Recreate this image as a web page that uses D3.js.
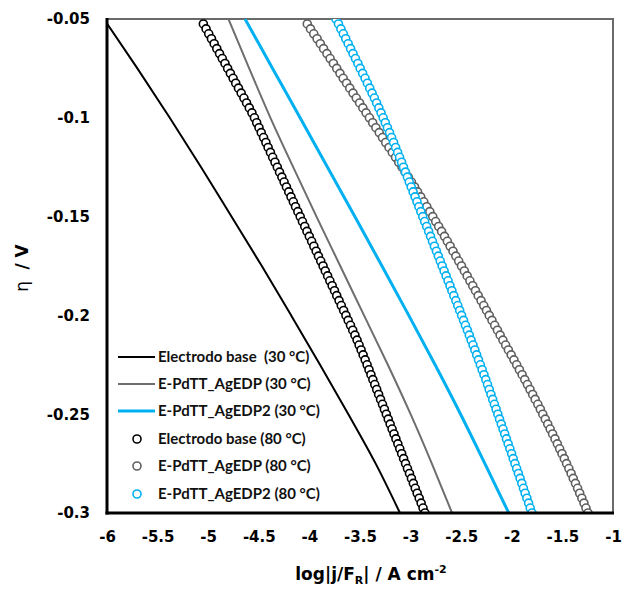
<!DOCTYPE html>
<html><head><meta charset="utf-8">
<script src="https://cdn.jsdelivr.net/npm/d3@7"></script>
<style>
body{margin:0;background:#fff}
text{font-family:Lato,"Open Sans",sans-serif;white-space:pre}
</style></head><body>
<svg id="chart" width="622" height="589"></svg>
<script>
// ---- data ----
const xTicks = [-6, -5.5, -5, -4.5, -4, -3.5, -3, -2.5, -2, -1.5, -1];
const yTicks = [-0.05, -0.1, -0.15, -0.2, -0.25, -0.3];

const seriesNames = [
  "Electrodo base  (30 °C)", "E-PdTT_AgEDP (30 °C)", "E-PdTT_AgEDP2 (30 °C)",
  "Electrodo base (80 °C)", "E-PdTT_AgEDP (80 °C)", "E-PdTT_AgEDP2 (80 °C)"
];

// 30 °C curves (lines)
const etaLine = [-0.05, -0.075, -0.1, -0.125, -0.15, -0.175, -0.2, -0.225, -0.25, -0.275, -0.3];
const logBase30 = [-6.030, -5.700, -5.380, -5.070, -4.770, -4.470, -4.180, -3.895, -3.615, -3.345, -3.105];
const logAgEDP30 = [-4.800, -4.595, -4.385, -4.160, -3.930, -3.695, -3.460, -3.225, -3.000, -2.790, -2.590];
const logAgEDP2_30 = [-4.636, -4.364, -4.092, -3.821, -3.551, -3.283, -3.018, -2.758, -2.506, -2.266, -2.030];

// 80 °C curves (markers)
const etaCircles = [-0.05,-0.0525,-0.055,-0.0575,-0.06,-0.0625,-0.065,-0.0675,-0.07,-0.0725,-0.075,-0.0775,-0.08,-0.0825,-0.085,-0.0875,-0.09,-0.0925,-0.095,-0.0975,
-0.1,-0.1025,-0.105,-0.1075,-0.11,-0.1125,-0.115,-0.1175,-0.12,-0.1225,-0.125,-0.1275,-0.13,-0.1325,-0.135,-0.1375,-0.14,-0.1425,-0.145,-0.1475,
-0.15,-0.1525,-0.155,-0.1575,-0.16,-0.1625,-0.165,-0.1675,-0.17,-0.1725,-0.175,-0.1775,-0.18,-0.1825,-0.185,-0.1875,-0.19,-0.1925,-0.195,-0.1975,
-0.2,-0.2025,-0.205,-0.2075,-0.21,-0.2125,-0.215,-0.2175,-0.22,-0.2225,-0.225,-0.2275,-0.23,-0.2325,-0.235,-0.2375,-0.24,-0.2425,-0.245,-0.2475,
-0.25,-0.2525,-0.255,-0.2575,-0.26,-0.2625,-0.265,-0.2675,-0.27,-0.2725,-0.275,-0.2775,-0.28,-0.2825,-0.285,-0.2875,-0.29,-0.2925,-0.295,-0.2975,-0.3];

const logBase80 = [null,
-5.048,-5.021,-4.995,-4.968,-4.941,-4.915,-4.888,-4.861,-4.834,-4.808,
-4.781,-4.754,-4.728,-4.701,-4.674,-4.647,-4.621,-4.594,-4.568,-4.543,
-4.521,-4.498,-4.476,-4.453,-4.430,-4.408,-4.385,-4.363,-4.340,-4.317,
-4.295,-4.272,-4.250,-4.227,-4.204,-4.182,-4.159,-4.137,-4.114,-4.091,
-4.069,-4.046,-4.024,-4.001,-3.978,-3.956,-3.933,-3.911,-3.888,-3.865,
-3.843,-3.820,-3.798,-3.775,-3.752,-3.730,-3.707,-3.685,-3.662,-3.639,
-3.617,-3.594,-3.572,-3.550,-3.529,-3.509,-3.489,-3.469,-3.449,-3.430,
-3.411,-3.392,-3.373,-3.354,-3.335,-3.316,-3.297,-3.278,-3.259,-3.240,
-3.221,-3.202,-3.183,-3.164,-3.145,-3.126,-3.107,-3.088,-3.069,-3.050,
-3.031,-3.011,-2.992,-2.973,-2.954,-2.935,-2.915,-2.896,-2.877,-2.858];

const logAgEDP80 = [null,
-4.021,-3.989,-3.957,-3.924,-3.892,-3.860,-3.827,-3.795,-3.763,-3.730,
-3.698,-3.666,-3.633,-3.601,-3.569,-3.537,-3.504,-3.472,-3.440,-3.407,
-3.375,-3.343,-3.310,-3.278,-3.246,-3.213,-3.181,-3.149,-3.117,-3.085,
-3.054,-3.023,-2.992,-2.961,-2.931,-2.900,-2.870,-2.840,-2.810,-2.781,
-2.752,-2.723,-2.694,-2.665,-2.637,-2.609,-2.581,-2.553,-2.525,-2.497,
-2.469,-2.441,-2.414,-2.386,-2.359,-2.332,-2.304,-2.277,-2.250,-2.223,
-2.196,-2.169,-2.142,-2.115,-2.088,-2.061,-2.034,-2.006,-1.979,-1.952,
-1.925,-1.898,-1.872,-1.846,-1.820,-1.794,-1.769,-1.743,-1.718,-1.694,
-1.669,-1.645,-1.621,-1.597,-1.573,-1.550,-1.527,-1.504,-1.481,-1.459,
-1.436,-1.414,-1.393,-1.371,-1.350,-1.329,-1.308,-1.287,-1.267,-1.247];

const logAgEDP2_80 = [-3.737,
-3.713,-3.689,-3.665,-3.641,-3.617,-3.593,-3.569,-3.545,-3.521,-3.498,
-3.474,-3.450,-3.427,-3.404,-3.381,-3.358,-3.336,-3.314,-3.292,-3.271,
-3.250,-3.229,-3.208,-3.188,-3.168,-3.148,-3.128,-3.109,-3.089,-3.070,
-3.051,-3.032,-3.013,-2.994,-2.975,-2.956,-2.937,-2.918,-2.899,-2.880,
-2.861,-2.841,-2.822,-2.803,-2.784,-2.765,-2.745,-2.726,-2.707,-2.688,
-2.669,-2.649,-2.630,-2.611,-2.592,-2.573,-2.553,-2.534,-2.515,-2.496,
-2.477,-2.458,-2.439,-2.420,-2.402,-2.383,-2.365,-2.347,-2.329,-2.311,
-2.293,-2.275,-2.257,-2.240,-2.223,-2.206,-2.189,-2.172,-2.155,-2.138,
-2.121,-2.104,-2.087,-2.070,-2.053,-2.036,-2.019,-2.002,-1.986,-1.969,
-1.952,-1.935,-1.918,-1.901,-1.885,-1.868,-1.851,-1.834,-1.818,-1.801];

const lineColors = ["#000000", "#6e6e6e", "#00b0f0"];
const circleColors = ["#000000", "#5f5f5f", "#00b0f0"];

// ---- drawing ----
const svg = d3.select("#chart");
const L = 107, R = 613, T = 19, B = 513;
const x = d3.scaleLinear().domain([-6, -1]).range([L, R]);
const y = d3.scaleLinear().domain([-0.05, -0.3]).range([T, B]);

svg.append("defs").append("clipPath").attr("id", "clip")
  .append("rect").attr("x", L).attr("y", T).attr("width", R - L).attr("height", B - T);

svg.append("rect").attr("x", L).attr("y", T).attr("width", R - L).attr("height", B - T)
  .attr("fill", "none").attr("stroke", "#6a6a6a").attr("stroke-width", 2);

const plot = svg.append("g").attr("clip-path", "url(#clip)");

const lineGen = d3.line().defined(d => d[1] != null).curve(d3.curveMonotoneY)
  .x(d => x(d[1])).y(d => y(d[0]));
const lineSets = [logBase30, logAgEDP30, logAgEDP2_30];
const lineWidths = [2, 2, 3];
lineSets.forEach((vals, i) => {
  plot.append("path")
    .datum(etaLine.map((e, k) => [e, vals[k]]))
    .attr("d", lineGen).attr("fill", "none")
    .attr("stroke", lineColors[i]).attr("stroke-width", lineWidths[i]);
});

const circleSets = [logBase80, logAgEDP80, logAgEDP2_80];
circleSets.forEach((vals, i) => {
  plot.append("g").selectAll("circle")
    .data(etaCircles.map((e, k) => [e, vals[k]]).filter(d => d[1] != null))
    .join("circle")
    .attr("cx", d => x(d[1])).attr("cy", d => y(d[0])).attr("r", 4)
    .attr("fill", "#fff").attr("stroke", circleColors[i]).attr("stroke-width", 1.6);
});

// axes
const tickFont = "'DejaVu Sans', sans-serif";
const xAxis = d3.axisBottom(x).tickValues(xTicks).tickSize(0).tickPadding(18).tickFormat(d => String(d));
const gx = svg.append("g").attr("transform", `translate(0,${B})`).call(xAxis);
gx.select(".domain").remove();
gx.selectAll("text").attr("font-size", 15).attr("font-weight", "bold").attr("fill", "#000")
  .style("font-family", tickFont);

const yAxis = d3.axisLeft(y).tickValues(yTicks).tickSize(0).tickPadding(17).tickFormat(d => String(d));
const gy = svg.append("g").attr("transform", `translate(${L},0)`).call(yAxis);
gy.select(".domain").remove();
gy.selectAll("text").attr("font-size", 15).attr("font-weight", "bold").attr("fill", "#000")
  .style("font-family", tickFont);

svg.append("line").attr("x1", L).attr("x2", L).attr("y1", T - 1).attr("y2", B + 1.5)
  .attr("stroke", "#000").attr("stroke-width", 3);
svg.append("line").attr("x1", L - 1.5).attr("x2", R + 1).attr("y1", B).attr("y2", B)
  .attr("stroke", "#000").attr("stroke-width", 3);

// axis titles
const xt = svg.append("text").attr("x", 371).attr("y", 580).attr("text-anchor", "middle")
  .attr("font-size", 17).attr("font-weight", "bold").attr("fill", "#000")
  .style("font-family", tickFont);
xt.append("tspan").text("log|j/F");
xt.append("tspan").attr("font-size", 11).attr("dy", 4).text("R");
xt.append("tspan").attr("dy", -4).text("| / A cm");
xt.append("tspan").attr("font-size", 11).attr("dy", -7).text("-2");

const yt = svg.append("text").attr("transform", "translate(28,268) rotate(-90)")
  .attr("text-anchor", "middle").attr("font-size", 17).attr("fill", "#000")
  .style("font-family", tickFont);
yt.append("tspan").text("η ");
yt.append("tspan").attr("font-weight", "bold").text(" / V");

// legend
const legY = [357, 384, 411, 439, 466, 494];
const leg = svg.append("g");
seriesNames.forEach((name, i) => {
  if (i < 3) {
    leg.append("line").attr("x1", 118).attr("x2", 155).attr("y1", legY[i]).attr("y2", legY[i])
      .attr("stroke", lineColors[i]).attr("stroke-width", lineWidths[i]);
  } else {
    leg.append("circle").attr("cx", 137).attr("cy", legY[i]).attr("r", 4)
      .attr("fill", "#fff").attr("stroke", circleColors[i - 3]).attr("stroke-width", 1.6);
  }
  leg.append("text").attr("x", 158).attr("y", legY[i]).attr("dy", "0.35em")
    .attr("font-size", 15).attr("font-weight", "bold").attr("fill", "#111").text(name);
});
</script>
</body></html>
